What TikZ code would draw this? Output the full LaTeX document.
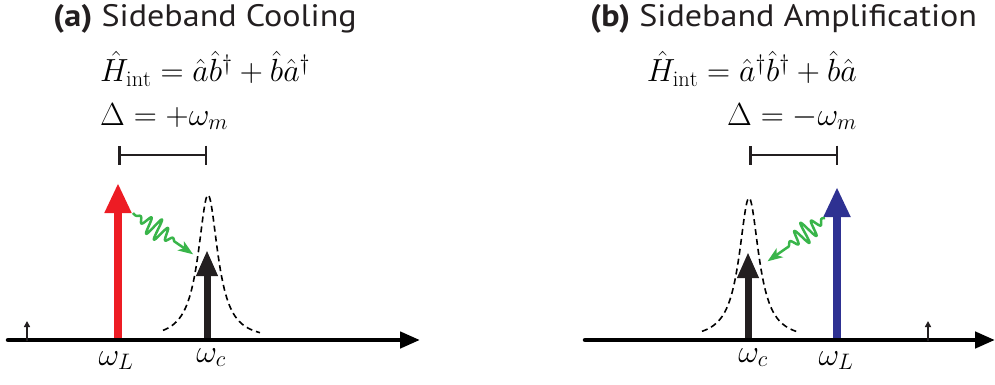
\RequirePackage{fix-cm}
\documentclass[tikz,border=0pt]{standalone}
\usepackage{fontspec}
\setsansfont[FakeStretch=1.1]{PT Sans}
\usetikzlibrary{arrows.meta}
\definecolor{myred}{HTML}{ED1C24}
\definecolor{myblue}{HTML}{2E3192}
\definecolor{mygreen}{HTML}{39B54A}
\definecolor{myblack}{HTML}{231F20}
\newcommand{\mathfs}{\fontsize{32}{38}\selectfont}
\newcommand{\titlefs}{\fontsize{31}{36}\selectfont\sffamily}
\begin{document}
\begin{tikzpicture}[x=1pt,y=-1pt,
  txt/.style={inner sep=0pt, font=\mathfs},
  ttl/.style={inner sep=0pt, font=\titlefs, text=myblack, anchor=base west},
  axisline/.style={line width=4.5pt, line cap=round, -{Triangle[length=20pt,width=16pt]}},
  tick/.style={line width=1.5pt, myblack, -{Triangle[length=6pt,width=6pt]}},
  bigred/.style={line width=8pt, myred, -{Triangle[length=30pt,width=25pt]}},
  bigblue/.style={line width=8pt, myblue, -{Triangle[length=30pt,width=25pt]}},
  cavarrow/.style={line width=7pt, myblack, -{Triangle[length=26pt,width=20pt]}},
  detbar/.style={line width=2.5pt, myblack, {Bar[width=19pt]}-{Bar[width=19pt]}},
  peak/.style={line width=1.6pt, dash pattern=on 6pt off 4pt},
  wave/.style={line width=2.5pt, mygreen, line join=round, -{Stealth[length=15pt,width=11pt,inset=4pt]}}
]
\useasboundingbox (0,0) rectangle (995,385);

% ---------- panel (a) ----------
\node[ttl] (ta) at (53,27) {\textbf{(a)} Sideband Cooling};
\node[txt, anchor=base west] (ha) at (100,82) {$\hat H_{\mathrm{int}} = \hat a\hat b^\dagger + \hat b\hat a^\dagger$};
\node[txt, anchor=base west] (da) at (100,125) {$\Delta = +\omega_m$};

\coordinate (ba1) at (118,155);
\coordinate (ba2) at (207,155);
\draw[detbar] (ba1) -- (ba2);

\draw[peak] plot[domain=-45:52, samples=150, smooth] ({208+\x},{340-145/(1+(\x/12)^2)});

\coordinate (ra0) at (118,340);
\coordinate (ra1) at (118,183);
\draw[bigred] (ra0) -- (ra1);
\coordinate (ca0) at (207,341);
\coordinate (ca1) at (207,250);
\draw[cavarrow] (ca0) -- (ca1);

\coordinate (ga1) at (133,213);
\begin{scope}[shift={(ga1)}, rotate=-34.5]
\draw[wave] plot[domain=0:50, samples=200, smooth] (\x,{11*exp(-((\x-28)/15)^2)*sin(\x/10*360)}) -- (73,0);
\end{scope}

\coordinate (ax0) at (8,340);
\coordinate (ax1) at (420,340);
\draw[axisline] (ax0) -- (ax1);
\coordinate (sa0) at (27,341);
\coordinate (sa1) at (27,321);
\draw[tick] (sa0) -- (sa1);

\node[txt, anchor=base] (wla) at (116,365) {$\omega_L$};
\node[txt, anchor=base] (wca) at (211,362) {$\omega_c$};

% ---------- panel (b) ----------
\node[ttl] (tb) at (590,27) {\textbf{(b)} Sideband Amplification};
\node[txt, anchor=base east] (hb) at (857,82) {$\hat H_{\mathrm{int}} = \hat a^\dagger\hat b^\dagger + \hat b\hat a$};
\node[txt, anchor=base east] (db) at (857,125) {$\Delta = -\omega_m$};

\coordinate (bb1) at (749,155);
\coordinate (bb2) at (838,155);
\draw[detbar] (bb1) -- (bb2);

\draw[peak] plot[domain=-47:49, samples=150, smooth] ({749+\x},{340-142/(1+(\x/12)^2)});

\coordinate (cb0) at (748,341);
\coordinate (cb1) at (748,252);
\draw[cavarrow] (cb0) -- (cb1);
\coordinate (bl0) at (837,340);
\coordinate (bl1) at (837,187);
\draw[bigblue] (bl0) -- (bl1);

\coordinate (gb1) at (825,218);
\begin{scope}[shift={(gb1)}, rotate=-143]
\draw[wave] plot[domain=0:48, samples=200, smooth] (\x,{11*exp(-((\x-24)/15)^2)*sin(\x/10*360)}) -- (72,0);
\end{scope}

\coordinate (bx0) at (585,340);
\coordinate (bx1) at (995,340);
\draw[axisline] (bx0) -- (bx1);
\coordinate (sb0) at (928,341);
\coordinate (sb1) at (928,321);
\draw[tick] (sb0) -- (sb1);

\node[txt, anchor=base] (wcb) at (753,362) {$\omega_c$};
\node[txt, anchor=base] (wlb) at (836,365) {$\omega_L$};
\end{tikzpicture}
\end{document}
